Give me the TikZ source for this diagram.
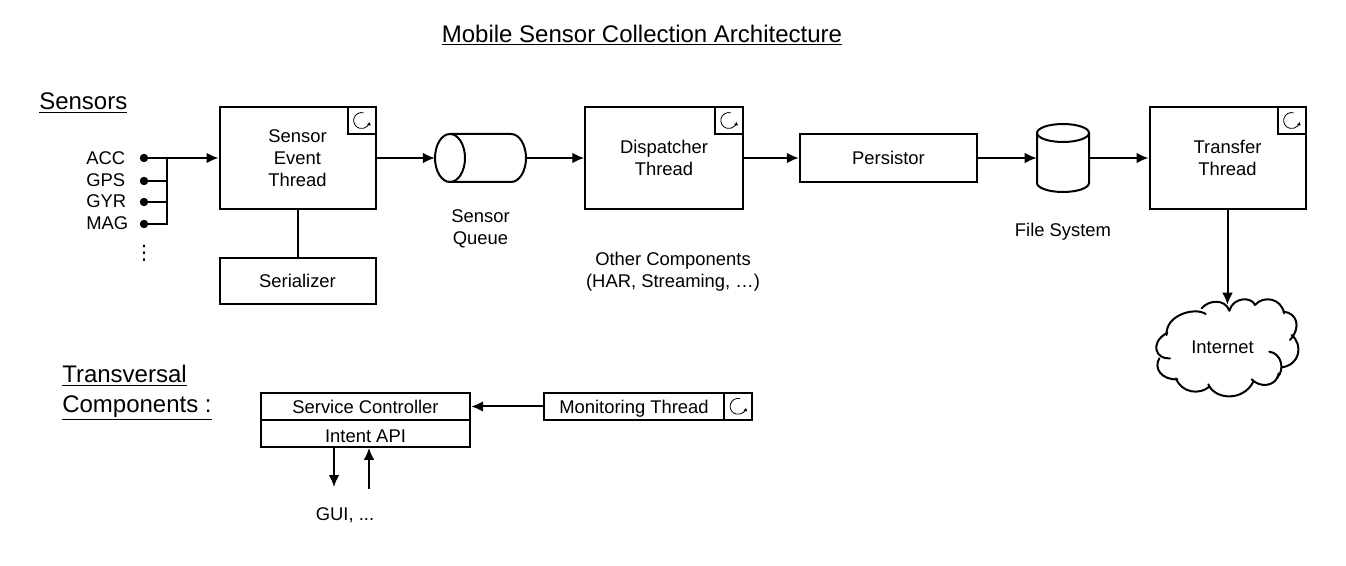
\documentclass[tikz,border=0pt]{standalone}
\usepackage{fontspec}
\setmainfont{Liberation Sans}
\newfontfamily\symbolfont{DejaVu Sans}
\usetikzlibrary{arrows.meta}
\tikzstyle{block} = [draw=black, line width=1.5pt, inner sep=0pt, align=center, font=\fontsize{13.8}{16.5}\selectfont]
\tikzstyle{hollow} = [inner sep=0pt]
\tikzstyle{loopbox} = [draw=black, line width=1.3pt, inner sep=0pt, minimum width=21pt, minimum height=20pt, anchor=north east]
\tikzstyle{label} = [inner sep=0pt, align=center, font=\fontsize{13.8}{16.5}\selectfont]
\tikzstyle{heading} = [inner sep=0pt, align=left, font=\fontsize{18}{22.5}\selectfont]
\tikzstyle{link} = [line width=1.5pt, -{Latex[length=9pt,width=8pt]}]
\tikzstyle{wire} = [line width=1.5pt]
\tikzstyle{shell} = [line width=1.5pt]
\tikzstyle{sensordot} = [circle, fill=black, inner sep=0pt, minimum size=6.3pt]
\newcommand{\spinner}[1]{\draw [line width=.6pt, -{Latex[length=2.5pt,width=3pt]}] ([shift={(75:6pt)}]#1.center) arc (75:350:6pt);}
\begin{document}
\begin{tikzpicture}[x=.75pt, y=-.75pt]
	\useasboundingbox (0,0) rectangle (1346,566);
	\node [heading] (title) at (642,35) {\underline{Mobile Sensor Collection Architecture}};
	\node [heading, anchor=west] (sensors) at (39,103) {\underline{Sensors}};
	\node [heading, anchor=west] (transversal) at (62,393) {\underline{Transversal}\\\underline{Components :}};
	% threads
	\node [block, minimum width=117pt, minimum height=76pt] (event) at (297.5,158) {Sensor\\Event\\Thread};
	\node [block, minimum width=118pt, minimum height=76pt] (dispatcher) at (664,158) {Dispatcher\\Thread};
	\node [block, minimum width=117pt, minimum height=76pt] (transfer) at (1227.5,158) {Transfer\\Thread};
	\node [loopbox] (eventloop) at (event.north east) {};
	\node [loopbox] (dispatcherloop) at (dispatcher.north east) {};
	\node [loopbox] (transferloop) at (transfer.north east) {};
	\spinner{eventloop}
	\spinner{dispatcherloop}
	\spinner{transferloop}
	% other blocks
	\node [block, minimum width=117pt, minimum height=35pt] (serializer) at (297.5,281) {Serializer};
	\node [block, minimum width=133pt, minimum height=36pt] (persistor) at (888.5,158) {Persistor};
	\node [hollow, minimum width=68pt, minimum height=36pt] (queue) at (480.5,158) {};
	\draw [shell] (450,158) ellipse [x radius=11.25pt, y radius=18pt];
	\draw [shell] (450,134) -- (511,134) arc [start angle=90, end angle=-90, x radius=11.25pt, y radius=18pt] -- (450,182);
	\node [hollow, minimum width=39pt, minimum height=51pt] (files) at (1063,158) {};
	\draw [shell] (1063,133) ellipse [x radius=19.5pt, y radius=6.75pt];
	\draw [shell] (1037,133) -- (1037,183) arc [start angle=180, end angle=360, x radius=19.5pt, y radius=6.75pt] -- (1089,133);
	% cloud
	\node [label, minimum width=111pt, minimum height=63pt] (internet) at (1222.5,347) {Internet};
	\begin{scope}[shift={(1140,290)}, x=.25pt, y=-.25pt]
		\draw [shell, line cap=round] (268,62) .. controls (280,20) and (335,20) .. (345,45);
		\draw [shell, line cap=round] (345,45) .. controls (370,15) and (425,25) .. (432,70);
		\draw [shell, line cap=round] (432,65) .. controls (470,70) and (485,110) .. (450,150);
		\draw [shell, line cap=round] (455,135) .. controls (490,165) and (480,225) .. (425,232);
		\draw [shell, line cap=round] (388,185) .. controls (425,190) and (435,240) .. (412,262);
		\draw [shell, line cap=round] (416,250) .. controls (410,290) and (360,295) .. (335,268);
		\draw [shell, line cap=round] (340,275) .. controls (310,335) and (225,330) .. (205,283);
		\draw [shell, line cap=round] (208,290) .. controls (180,315) and (125,310) .. (108,265);
		\draw [shell, line cap=round] (112,268) .. controls (65,270) and (40,235) .. (58,205);
		\draw [shell, line cap=round] (90,205) .. controls (50,210) and (25,160) .. (82,128);
		\draw [shell, line cap=round] (80,135) .. controls (75,75) and (165,50) .. (197,72);
		\draw [shell, line cap=round] (185,55) .. controls (205,30) and (255,25) .. (268,62);
	\end{scope}
	\node [label] (queuetext) at (480.5,228.5) {Sensor\\Queue};
	\node [label] (filestext) at (1063,232) {File System};
	\node [label] (othertext) at (673,272) {Other Components\\(HAR, Streaming, \dots)};
	% sensors
	\node [label, anchor=west] (acc) at (86,158) {ACC};
	\node [label, anchor=west] (gps) at (86,180) {GPS};
	\node [label, anchor=west] (gyr) at (86,201) {GYR};
	\node [label, anchor=west] (mag) at (86,223) {MAG};
	\node [sensordot] (accdot) at (144,158) {};
	\node [sensordot] (gpsdot) at (144,181) {};
	\node [sensordot] (gyrdot) at (144,202) {};
	\node [sensordot] (magdot) at (144,224) {};
	\node [label, font=\symbolfont\fontsize{15}{15}\selectfont] (more) at (144,253) {⋮};
	\coordinate (accbus) at (167,158);
	\draw [wire] (gpsdot) -- (167,181);
	\draw [wire] (gyrdot) -- (167,202);
	\draw [wire] (magdot) -- (167,224) -- (accbus);
	% flow
	\draw [link] (accdot) -- (event.west);
	\draw [link] (event.east) -- (queue.west);
	\draw [link] (queue.east) -- (dispatcher.west);
	\draw [link] (dispatcher.east) -- (persistor.west);
	\draw [link] (persistor.east) -- (files.west);
	\draw [link] (files.east) -- (transfer.west);
	\draw [link] (transfer.south) -- (transfer.south |- internet.north);
	\draw [wire] (event.south) -- (serializer.north);
	% transversal
	\node [block, minimum width=157pt, minimum height=20pt] (controller) at (365.5,406.5) {Service Controller};
	\node [block, minimum width=157pt, minimum height=20pt, text height=13pt] (intent) at (365.5,433.5) {Intent API};
	\node [block, minimum width=156pt, minimum height=20pt, text depth=0pt] (monitoring) at (648,406.5) {Monitoring Thread\hspace{21pt}};
	\node [loopbox] (monitorloop) at (monitoring.north east) {};
	\spinner{monitorloop}
	\node [label] (gui) at (345,515) {GUI, ...};
	\coordinate (guiout) at (334,487);
	\coordinate (guiin) at (369,489);
	\draw [link] (monitoring.west) -- (controller.east);
	\draw [link] (intent.south -| guiout) -- (guiout);
	\draw [link] (guiin) -- (intent.south -| guiin);
\end{tikzpicture}
\end{document}
